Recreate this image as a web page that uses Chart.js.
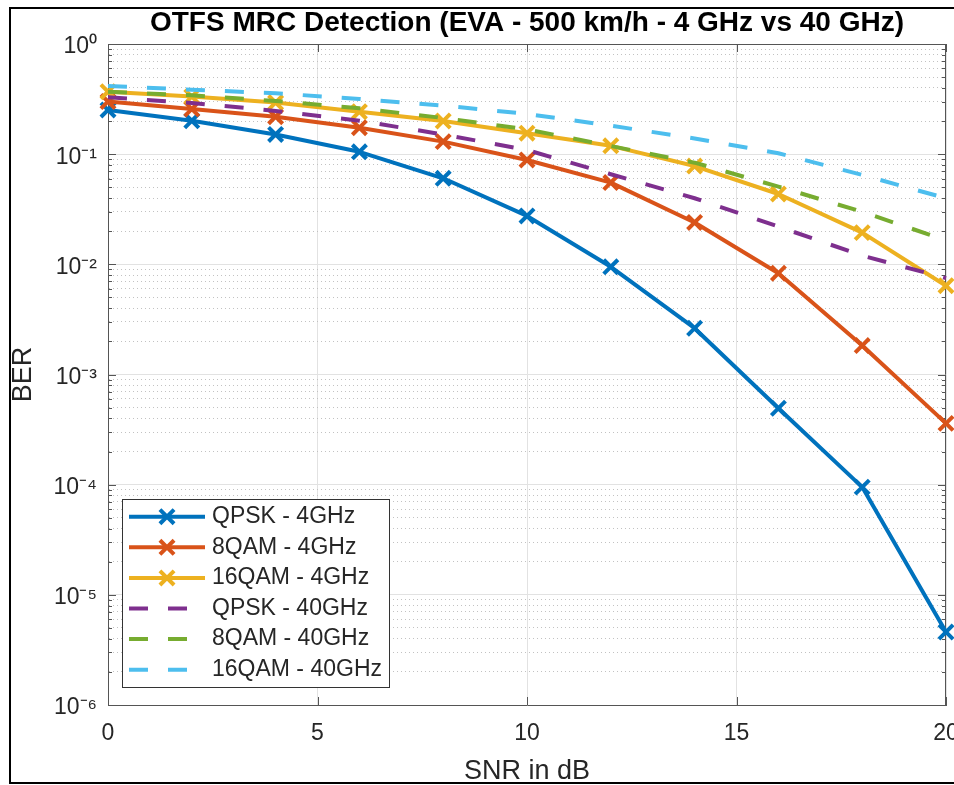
<!DOCTYPE html>
<html><head><meta charset="utf-8">
<script src="https://cdn.jsdelivr.net/npm/chart.js@4.4.0/dist/chart.umd.min.js"></script>
<style>
html,body{margin:0;padding:0;background:#fff;width:954px;height:785px;overflow:hidden;position:relative}
#frame{position:absolute;left:9px;top:7px;width:1000px;height:777px;box-sizing:border-box;border:2px solid #000;}
#c{position:absolute;left:0;top:0;}
</style></head><body>
<div id="frame"></div>
<canvas id="c" width="960" height="785"></canvas>
<script>
// ---- data ----
const titleText = 'OTFS MRC Detection (EVA - 500 km/h - 4 GHz vs 40 GHz)';
const xTitle = 'SNR in dB';
const yTitle = 'BER';
const snrDb = [0, 2, 4, 6, 8, 10, 12, 14, 16, 18, 20];
const seriesLabels = ['QPSK - 4GHz', '8QAM - 4GHz', '16QAM - 4GHz', 'QPSK - 40GHz', '8QAM - 40GHz', '16QAM - 40GHz'];
const qpsk4GHz  = [0.252, 0.201, 0.151, 0.105, 0.0604, 0.0275, 0.0095, 0.00263, 0.000494, 0.000095, 0.0000046];
const qam8_4GHz = [0.300, 0.257, 0.219, 0.174, 0.130, 0.0886, 0.0552, 0.0240, 0.0083, 0.00183, 0.00036];
const qam16_4GHz = [0.369, 0.333, 0.294, 0.243, 0.200, 0.155, 0.119, 0.078, 0.0435, 0.0194, 0.0064];
const qpsk40GHz = [0.328, 0.292, 0.247, 0.201, 0.151, 0.109, 0.0657, 0.0398, 0.022, 0.012, 0.0075];
const qam8_40GHz = [0.369, 0.342, 0.304, 0.261, 0.213, 0.168, 0.1186, 0.0837, 0.0507, 0.030, 0.0165];
const qam16_40GHz = [0.416, 0.385, 0.357, 0.317, 0.276, 0.232, 0.1815, 0.139, 0.102, 0.0648, 0.0398];
const xTickValues = [0, 5, 10, 15, 20];
const yTickValues = [1, 1e-1, 1e-2, 1e-3, 1e-4, 1e-5, 1e-6];
const yTickLabels = ['10⁰', '10⁻¹', '10⁻²', '10⁻³', '10⁻⁴', '10⁻⁵', '10⁻⁶'];

// ---- style ----
const FONT = "'Liberation Sans', Arial, Helvetica, sans-serif";
const seriesValues = [qpsk4GHz, qam8_4GHz, qam16_4GHz, qpsk40GHz, qam8_40GHz, qam16_40GHz];
const seriesColors = ['#0072BD', '#D95319', '#EDB120', '#7E2F8E', '#77AC30', '#4DBEEE'];
const seriesDashed = [false, false, false, true, true, true];
const DASH = [19, 20];
const AXIS_COLOR = '#555555';
const TEXT_COLOR = '#262626';

function isDecade(v) {
  const l = Math.log10(v);
  return Math.abs(l - Math.round(l)) < 1e-9;
}

const datasets = seriesValues.map((vals, i) => ({
  label: seriesLabels[i],
  data: snrDb.map((x, j) => ({ x: x, y: vals[j] })),
  borderColor: seriesColors[i],
  backgroundColor: seriesColors[i],
  borderWidth: 4,
  borderDash: seriesDashed[i] ? DASH : [],
  borderCapStyle: 'butt',
  borderJoinStyle: 'round',
  pointStyle: 'crossRot',
  pointRadius: seriesDashed[i] ? 0 : 10,
  pointHoverRadius: seriesDashed[i] ? 0 : 10,
  pointBorderWidth: 4,
  pointBorderColor: seriesColors[i],
  tension: 0,
  fill: false,
  clip: false,
  order: 10 - i
}));

const axesDeco = {
  id: 'axesDeco',
  beforeDatasetsDraw(chart) {
    const { ctx, chartArea: a, scales: { x, y } } = chart;
    ctx.save();
    ctx.strokeStyle = AXIS_COLOR;
    ctx.lineWidth = 1;
    ctx.beginPath();
    ctx.moveTo(a.left, a.top + 0.5); ctx.lineTo(a.right, a.top + 0.5);
    ctx.moveTo(a.right - 0.5, a.top); ctx.lineTo(a.right - 0.5, a.bottom);
    y.ticks.forEach(t => {
      const py = Math.round(y.getPixelForValue(t.value)) + 0.5;
      const len = isDecade(t.value) ? 8 : 4;
      ctx.moveTo(a.left, py); ctx.lineTo(a.left + len, py);
      ctx.moveTo(a.right, py); ctx.lineTo(a.right - len, py);
    });
    x.ticks.forEach(t => {
      const px = Math.round(x.getPixelForValue(t.value)) + 0.5;
      ctx.moveTo(px, a.bottom); ctx.lineTo(px, a.bottom - 8);
      ctx.moveTo(px, a.top); ctx.lineTo(px, a.top + 8);
    });
    ctx.stroke();
    ctx.restore();
  }
};

const legendBox = {
  id: 'legendBox',
  afterDraw(chart) {
    const ctx = chart.ctx;
    const L = 122, T = 499, R = 390, B = 688;
    ctx.save();
    ctx.fillStyle = '#ffffff';
    ctx.fillRect(L, T, R - L, B - T);
    ctx.strokeStyle = '#333333';
    ctx.lineWidth = 1;
    ctx.strokeRect(L + 0.5, T + 0.5, R - L - 1, B - T - 1);
    chart.data.datasets.forEach((ds, i) => {
      const yy = 516.7 + i * 30.6;
      ctx.strokeStyle = ds.borderColor;
      ctx.lineWidth = 4;
      ctx.lineCap = 'butt';
      ctx.setLineDash(ds.borderDash || []);
      ctx.beginPath(); ctx.moveTo(129, yy); ctx.lineTo(205, yy); ctx.stroke();
      ctx.setLineDash([]);
      if (ds.pointRadius > 0) {
        const d = ds.pointRadius * Math.SQRT1_2;
        ctx.beginPath();
        ctx.moveTo(167 - d, yy - d); ctx.lineTo(167 + d, yy + d);
        ctx.moveTo(167 + d, yy - d); ctx.lineTo(167 - d, yy + d);
        ctx.stroke();
      }
      ctx.fillStyle = TEXT_COLOR;
      ctx.font = '23px ' + FONT;
      ctx.textBaseline = 'middle';
      ctx.textAlign = 'left';
      ctx.fillText(ds.label, 212, yy);
    });
    ctx.restore();
  }
};

new Chart(document.getElementById('c'), {
  type: 'line',
  data: { datasets: datasets },
  plugins: [axesDeco, legendBox],
  options: {
    responsive: false,
    animation: false,
    devicePixelRatio: 1,
    layout: { padding: { left: 0, right: 8, top: 0, bottom: 0 } },
    plugins: {
      legend: { display: false },
      tooltip: { enabled: false },
      title: {
        display: true, text: titleText, fullSize: false, color: '#000',
        font: { family: FONT, size: 28, weight: 'bold', lineHeight: 1.2 },
        padding: { top: 6.5, bottom: 3.9 }
      }
    },
    scales: {
      x: {
        type: 'linear', min: 0, max: 20, position: 'bottom',
        afterBuildTicks: s => { s.ticks = xTickValues.map(v => ({ value: v })); },
        afterFit: s => { s.height = 80; s.paddingLeft = 0; s.paddingRight = 0; },
        ticks: { font: { family: FONT, size: 23 }, color: TEXT_COLOR, padding: 15, autoSkip: false, maxRotation: 0 },
        grid: { color: '#e2e2e2', lineWidth: 1, drawTicks: false },
        border: { display: true, color: AXIS_COLOR, width: 1 },
        title: { display: true, text: xTitle, color: TEXT_COLOR, font: { family: FONT, size: 27, lineHeight: 1 }, padding: { top: 0, bottom: 0 } }
      },
      y: {
        type: 'logarithmic', min: 1e-6, max: 1, position: 'left',
        afterBuildTicks: s => {
          const t = [];
          for (let e = -6; e <= 0; e++) {
            for (let m = 1; m <= 9; m++) {
              const v = Number((m * Math.pow(10, e)).toPrecision(3));
              if (v <= 1) t.push({ value: v });
            }
          }
          s.ticks = t;
        },
        afterFit: s => { s.width = 108; s.paddingTop = 0; s.paddingBottom = 0; },
        ticks: {
          autoSkip: false, padding: 11, labelOffset: 3,
          font: { family: FONT, size: 23 }, color: TEXT_COLOR,
          callback: (v) => {
            const k = yTickValues.findIndex(d => Math.abs(d - v) / d < 1e-6);
            return k >= 0 ? yTickLabels[k] : '';
          }
        },
        grid: {
          drawTicks: false, lineWidth: 1,
          color: c => (c.tick && !isDecade(c.tick.value)) ? '#c2c2c2' : '#e2e2e2'
        },
        border: {
          display: true, color: AXIS_COLOR, width: 1,
          dash: c => (c.tick && !isDecade(c.tick.value)) ? [1, 3] : []
        },
        title: { display: true, text: yTitle, color: TEXT_COLOR, font: { family: FONT, size: 27, lineHeight: 1.2 }, padding: { top: 7, bottom: 0 } }
      }
    }
  }
});
</script>
</body></html>
